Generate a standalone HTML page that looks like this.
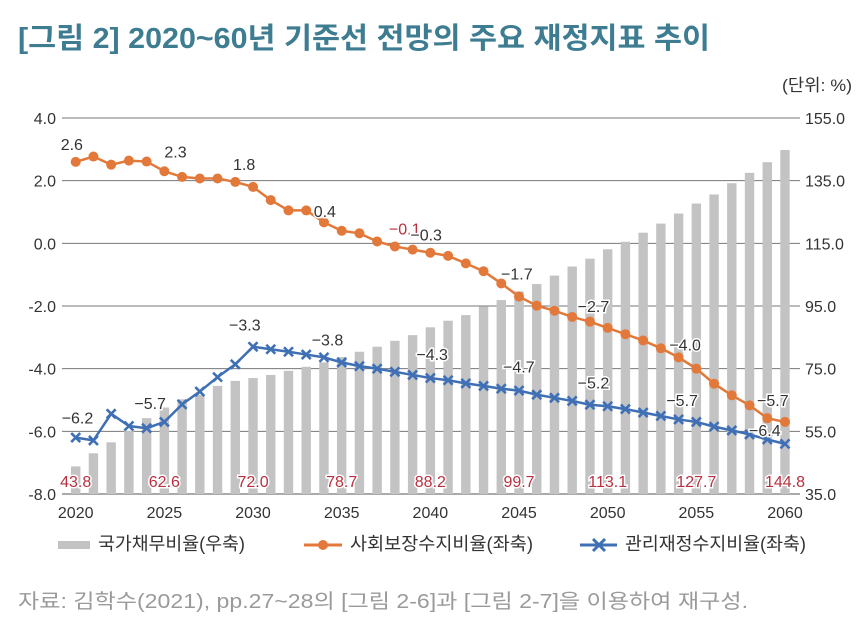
<!DOCTYPE html>
<html><head><meta charset="utf-8">
<style>
html,body{margin:0;padding:0;background:#fff;}
svg{display:block;font-family:"Liberation Sans","Noto Sans CJK KR",sans-serif;}
</style></head>
<body>
<svg id="chart" width="866" height="621" viewBox="0 0 866 621" xmlns="http://www.w3.org/2000/svg">
<text x="18" y="48" font-size="29" font-weight="bold" fill="#3d7c91" textLength="692" lengthAdjust="spacingAndGlyphs">[그림 2] 2020~60년 기준선 전망의 주요 재정지표 추이</text>
<text x="852" y="91" font-size="17" fill="#333" text-anchor="end" textLength="70" lengthAdjust="spacingAndGlyphs">(단위: %)</text>
<g id="grid"></g>
<g id="bars"></g>
<g id="lines"></g>
<g id="labels"></g>
<g id="axes"></g>
<g>
  <g>
    <rect x="58" y="541" width="32" height="8" fill="#c3c3c3"></rect>
    <text x="98" y="550" font-size="18" fill="#333" textLength="147" lengthAdjust="spacingAndGlyphs">국가채무비율(우축)</text>
  </g>
  <g>
    <line x1="304" y1="545" x2="342" y2="545" stroke="#e2793a" stroke-width="3"></line>
    <circle cx="323" cy="545" r="5" fill="#e2793a"></circle>
    <text x="350" y="550" font-size="18" fill="#333" textLength="183" lengthAdjust="spacingAndGlyphs">사회보장수지비율(좌축)</text>
  </g>
  <g>
    <line x1="580" y1="545" x2="617" y2="545" stroke="#3f6fb5" stroke-width="3"></line>
    <path d="M593 539 L605 551 M605 539 L593 551" stroke="#3f6fb5" stroke-width="3"></path>
    <text x="625" y="550" font-size="18" fill="#333" textLength="181" lengthAdjust="spacingAndGlyphs">관리재정수지비율(좌축)</text>
  </g>
</g>
<text x="18" y="608" font-size="20" fill="#9a9a9a" textLength="730" lengthAdjust="spacingAndGlyphs">자료: 김학수(2021), pp.27~28의 [그림 2-6]과 [그림 2-7]을 이용하여 재구성.</text>
</svg>
<script>
const years = [2020,2021,2022,2023,2024,2025,2026,2027,2028,2029,2030,2031,2032,2033,2034,2035,2036,2037,2038,2039,2040,2041,2042,2043,2044,2045,2046,2047,2048,2049,2050,2051,2052,2053,2054,2055,2056,2057,2058,2059,2060];
const debtRatio = [43.8,48.0,51.5,55.1,59.2,62.6,65.2,66.6,69.5,71.1,72.0,73.0,74.3,75.6,77.0,78.7,80.4,82.0,83.9,85.7,88.2,90.3,92.1,94.8,96.9,99.7,102.0,104.7,107.6,110.1,113.1,115.5,118.4,121.3,124.5,127.7,130.6,134.2,137.5,140.9,144.8];
const socialBalance = [2.6,2.77,2.51,2.64,2.61,2.3,2.12,2.07,2.07,1.96,1.8,1.38,1.05,1.05,0.67,0.4,0.32,0.06,-0.1,-0.2,-0.3,-0.4,-0.64,-0.89,-1.28,-1.7,-1.99,-2.15,-2.35,-2.5,-2.7,-2.9,-3.1,-3.35,-3.64,-4.0,-4.48,-4.85,-5.17,-5.58,-5.7];
const managedBalance = [-6.2,-6.29,-5.44,-5.83,-5.9,-5.7,-5.14,-4.73,-4.27,-3.86,-3.3,-3.38,-3.46,-3.55,-3.64,-3.8,-3.92,-4.0,-4.1,-4.2,-4.3,-4.37,-4.47,-4.55,-4.64,-4.7,-4.83,-4.93,-5.03,-5.15,-5.2,-5.29,-5.4,-5.51,-5.62,-5.7,-5.85,-5.97,-6.1,-6.26,-6.4];
const leftTicks = ["4.0","2.0","0.0","-2.0","-4.0","-6.0","-8.0"];
const rightTicks = ["155.0","135.0","115.0","95.0","75.0","55.0","35.0"];
const xTicks = ["2020","2025","2030","2035","2040","2045","2050","2055","2060"];
const debtLabelYears = [2020,2025,2030,2035,2040,2045,2050,2055,2060];
const debtLabels = ["43.8","62.6","72.0","78.7","88.2","99.7","113.1","127.7","144.8"];
const socialLabelYears = [2020,2025,2030,2035,2038,2040,2045,2050,2055,2060];
const socialLabels = ["2.6","2.3","1.8","0.4","-0.1","-0.3","-1.7","-2.7","-4.0","-5.7"];
const managedLabelYears = [2020,2025,2030,2035,2040,2045,2050,2055,2060];
const managedLabels = ["-6.2","-5.7","-3.3","-3.8","-4.3","-4.7","-5.2","-5.7","-6.4"];

const NS = "http://www.w3.org/2000/svg";
const X0 = 75.7, X1 = 785, Y0 = 118, Y1 = 494;
function xs(yr){ return X0 + (yr - 2020) * (X1 - X0) / 40; }
function yl(v){ return Y0 + (4 - v) * (Y1 - Y0) / 12; }
function yr(v){ return Y0 + (155 - v) * (Y1 - Y0) / 120; }
function mk(tag, attrs, parent){
  const e = document.createElementNS(NS, tag);
  for (const k in attrs) e.setAttribute(k, attrs[k]);
  parent.appendChild(e);
  return e;
}
const grid = document.getElementById('grid');
const axes = document.getElementById('axes');
leftTicks.forEach((t, i) => {
  const v = parseFloat(t);
  const y = yl(v);
  const ln = mk('line', {x1: 62, x2: 800, y1: y, y2: y, stroke: i === leftTicks.length - 1 ? '#555' : '#777', 'stroke-width': 1}, grid);
  
  
  const tx = mk('text', {x: 56, y: y + 6, 'font-size': 16, fill: '#333', 'text-anchor': 'end'}, axes);
  tx.textContent = t.replace('-', '-');
  
  
});
rightTicks.forEach((t) => {
  const y = yr(parseFloat(t));
  const tx = mk('text', {x: 805, y: y + 6, 'font-size': 16, fill: '#333'}, axes);
  tx.textContent = t;
  
  
});
xTicks.forEach((t) => {
  const tx = mk('text', {x: xs(parseInt(t)), y: 518, 'font-size': 16, fill: '#333', 'text-anchor': 'middle'}, axes);
  tx.textContent = t;
  
  
});
const bars = document.getElementById('bars');
years.forEach((yrv, i) => {
  const top = yr(debtRatio[i]);
  const r = mk('rect', {x: xs(yrv) - 4.7, y: top, width: 9.4, height: Y1 - top, fill: '#c3c3c3'}, bars);
  
  
});
const lines = document.getElementById('lines');
const sp = years.map((yv, i) => xs(yv) + ',' + yl(socialBalance[i])).join(' ');
const sl = mk('polyline', {points: sp, fill: 'none', stroke: '#e2793a', 'stroke-width': 2.5}, lines);


years.forEach((yv, i) => {
  const c = mk('circle', {cx: xs(yv), cy: yl(socialBalance[i]), r: 5, fill: '#e2793a'}, lines);
  
  
});
const mp = years.map((yv, i) => xs(yv) + ',' + yl(managedBalance[i])).join(' ');
const ml = mk('polyline', {points: mp, fill: 'none', stroke: '#3f6fb5', 'stroke-width': 2.5}, lines);


years.forEach((yv, i) => {
  const x = xs(yv), y = yl(managedBalance[i]);
  const p = mk('path', {d: `M${x-4.5} ${y-4.5} L${x+4.5} ${y+4.5} M${x+4.5} ${y-4.5} L${x-4.5} ${y+4.5}`, stroke: '#3f6fb5', 'stroke-width': 2.6}, lines);
  
  
});
const labels = document.getElementById('labels');
function halo(attrs, txt, name){
  const t = mk('text', Object.assign({'font-size': 16, stroke: '#fff', 'stroke-width': 3, 'paint-order': 'stroke'}, attrs), labels);
  t.textContent = txt.replace('-', '\u2212');
  
  
}
debtLabelYears.forEach((yv, i) => {
  halo({x: xs(yv), y: 487, fill: '#b8303f', 'text-anchor': 'middle'}, debtLabels[i], 'debt-value-label');
});
const sOff = {2020:[-15,-12],2025:[0,-14],2030:[-20,-17],2035:[-28,-14],2038:[-6,-12],2040:[-20,-12],2045:[-18,-17],2050:[-30,-16],2055:[-27,-18],2060:[-28,-16]};
socialLabelYears.forEach((yv, i) => {
  const idx = years.indexOf(yv);
  const o = sOff[yv];
  halo({x: xs(yv) + o[0], y: yl(socialBalance[idx]) + o[1], fill: yv === 2038 ? '#b8303f' : '#333'}, socialLabels[i], 'social-value-label');
});
const mOff = {2020:[-14,-14],2025:[-30,-13],2030:[-24,-16],2035:[-30,-17],2040:[-14,-18],2045:[-16,-18],2050:[-30,-18],2055:[-30,-16],2060:[-36,-8]};
managedLabelYears.forEach((yv, i) => {
  const idx = years.indexOf(yv);
  const o = mOff[yv];
  halo({x: xs(yv) + o[0], y: yl(managedBalance[idx]) + o[1], fill: '#333'}, managedLabels[i], 'managed-value-label');
});
</script>
</body></html>
